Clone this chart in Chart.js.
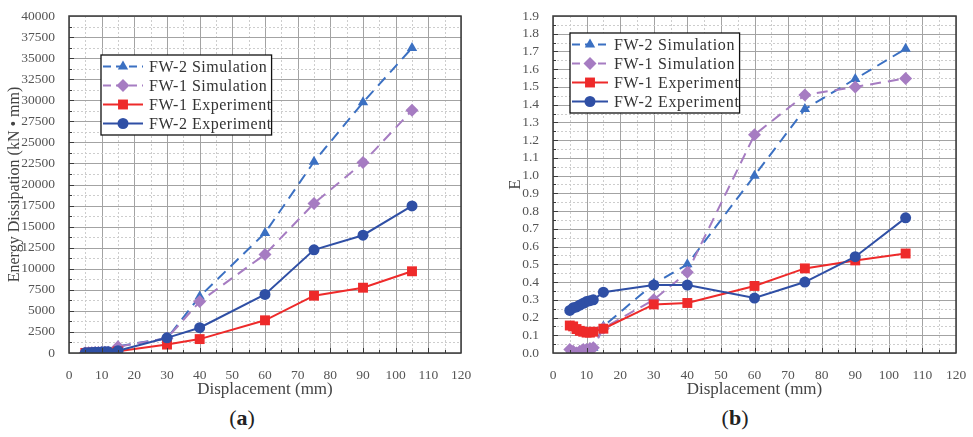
<!DOCTYPE html>
<html lang="en">
<head>
<meta charset="UTF-8">
<title>Energy dissipation / E</title>
<script src="https://cdn.jsdelivr.net/npm/chart.js@4.4.0/dist/chart.umd.min.js"></script>
<style>
  body{margin:0;background:#fff;width:973px;height:437px;position:relative;overflow:hidden;}
  .box{position:absolute;top:0;height:400px;}
  #boxA{left:0;width:485px;}
  #boxB{left:490px;width:483px;}
  .tag{position:absolute;top:405px;width:100px;text-align:center;font:22px "Liberation Serif",serif;color:#222;}
  .tag b{font-weight:bold;}
</style>
</head>
<body>
<div class="box" id="boxA"><canvas id="chartA"></canvas></div>
<div class="box" id="boxB"><canvas id="chartB"></canvas></div>
<div class="tag" style="left:192px;">(<b>a</b>)</div>
<div class="tag" style="left:685px;">(<b>b</b>)</div>
<script>
// displacement steps (mm)
const disp = [5, 6, 7, 8, 9, 10, 11, 12, 15, 30, 40, 60, 75, 90, 105];

// energy dissipation, kN*mm
const energyFW2Sim = [30, 40, 50, 60, 70, 80, 90, 100, 800, 1750, 6700, 14250, 22700, 29750, 36200];
const energyFW1Sim = [20, 30, 40, 50, 60, 70, 80, 90, 750, 1750, 6100, 11700, 17750, 22600, 28800];
const energyFW1Exp = [10, 20, 30, 40, 50, 60, 70, 80, 200, 1000, 1650, 3880, 6800, 7750, 9700];
const energyFW2Exp = [20, 40, 60, 80, 100, 120, 140, 160, 280, 1800, 3000, 6950, 12250, 13980, 17450];

// E coefficient
const eFW2Sim = [0.005, 0.0, 0.0, 0.01, 0.015, 0.02, 0.025, 0.03, 0.15, 0.39, 0.50, 1.00, 1.375, 1.545, 1.715];
const eFW1Sim = [0.02, 0.01, 0.0, 0.01, 0.02, 0.02, 0.025, 0.03, 0.14, 0.30, 0.455, 1.23, 1.455, 1.50, 1.548];
const eFW1Exp = [0.155, 0.15, 0.135, 0.125, 0.12, 0.115, 0.115, 0.12, 0.137, 0.274, 0.282, 0.378, 0.477, 0.522, 0.561];
const eFW2Exp = [0.24, 0.255, 0.26, 0.27, 0.28, 0.29, 0.295, 0.30, 0.343, 0.383, 0.383, 0.31, 0.40, 0.543, 0.762];

const seriesNames = ['FW-2 Simulation', 'FW-1 Simulation', 'FW-1 Experiment', 'FW-2 Experiment'];
const xTicks = [0, 10, 20, 30, 40, 50, 60, 70, 80, 90, 100, 110, 120];

const SERIF = '"Liberation Serif", "Times New Roman", serif';

const styles = [
  {color: '#3b70c2', dash: [11, 7], point: 'triangle', r: 6, order: 3},
  {color: '#a67cc2', dash: [11, 7], point: 'rectRot', r: 6.5, order: 2},
  {color: '#ee2a2a', dash: [], point: 'rect', r: 7, order: 1},
  {color: '#2f4fa5', dash: [], point: 'circle', r: 5.5, order: 0}
];

function makeSets(lists) {
  return lists.map((vals, i) => ({
    label: seriesNames[i],
    data: disp.map((d, k) => ({x: d, y: vals[k]})),
    borderColor: styles[i].color,
    backgroundColor: styles[i].color,
    borderWidth: 2,
    borderDash: styles[i].dash,
    pointStyle: styles[i].point,
    pointRadius: styles[i].r,
    pointBorderWidth: 0,
    tension: 0,
    order: styles[i].order
  }));
}

// major/minor grid, axis frame and inner ticks
const paperGrid = {
  id: 'paperGrid',
  beforeDatasetsDraw(chart, args, o) {
    const {ctx, chartArea: a, scales: {x, y}} = chart;
    ctx.save();
    const nx = Math.round((x.max - x.min) / o.xMinor);
    for (let i = 0; i <= nx; i++) {
      const px = Math.round(x.getPixelForValue(x.min + i * o.xMinor)) + 0.5;
      const major = i % 2 === 0;
      ctx.strokeStyle = major ? '#a3a3a3' : '#cdcdcd';
      ctx.lineWidth = 1;
      ctx.setLineDash(major ? [] : [2, 2]);
      ctx.beginPath(); ctx.moveTo(px, a.top); ctx.lineTo(px, a.bottom); ctx.stroke();
    }
    const ny = Math.round((y.max - y.min) / o.yMinor);
    for (let i = 0; i <= ny; i++) {
      const py = Math.round(y.getPixelForValue(y.min + i * o.yMinor)) + 0.5;
      const major = i % 2 === 0;
      ctx.strokeStyle = major ? '#a3a3a3' : '#cdcdcd';
      ctx.lineWidth = 1;
      ctx.setLineDash(major ? [] : [2, 2]);
      ctx.beginPath(); ctx.moveTo(a.left, py); ctx.lineTo(a.right, py); ctx.stroke();
    }
    ctx.restore();
  },
  afterDatasetsDraw(chart, args, o) {
    const {ctx, chartArea: a, scales: {x, y}} = chart;
    ctx.save();
    ctx.strokeStyle = '#3a3a3a';
    ctx.lineWidth = 1.5;
    ctx.setLineDash([]);
    ctx.strokeRect(a.left, a.top, a.right - a.left, a.bottom - a.top);
    ctx.lineWidth = 1;
    const nx = Math.round((x.max - x.min) / o.xMinor);
    for (let i = 1; i < nx; i++) {
      const px = Math.round(x.getPixelForValue(x.min + i * o.xMinor)) + 0.5;
      const len = i % 2 === 0 ? 5 : 3;
      ctx.beginPath(); ctx.moveTo(px, a.bottom); ctx.lineTo(px, a.bottom - len); ctx.stroke();
    }
    const ny = Math.round((y.max - y.min) / o.yMinor);
    for (let i = 1; i < ny; i++) {
      const py = Math.round(y.getPixelForValue(y.min + i * o.yMinor)) + 0.5;
      const len = i % 2 === 0 ? 5 : 3;
      ctx.beginPath(); ctx.moveTo(a.left, py); ctx.lineTo(a.left + len, py); ctx.stroke();
    }
    ctx.restore();
  }
};

// boxed legend inside the plot
const boxLegend = {
  id: 'boxLegend',
  afterDraw(chart, args, o) {
    const ctx = chart.ctx;
    const sets = chart.data.datasets;
    ctx.save();
    ctx.font = '16px ' + SERIF;
    ctx.letterSpacing = o.spacing;
    const textW = Math.max(...sets.map(s => ctx.measureText(s.label).width));
    const w = o.sample + 6 + textW + 2;
    const h = sets.length * o.row + 4;
    ctx.fillStyle = '#fff';
    ctx.fillRect(o.left, o.top, w, h);
    ctx.strokeStyle = '#111';
    ctx.lineWidth = 1.3;
    ctx.strokeRect(o.left, o.top, w, h);
    sets.forEach((s, i) => {
      const cy = o.top + 2 + o.row * (i + 0.5);
      const x0 = o.left + 2, x1 = x0 + o.sample;
      ctx.strokeStyle = s.borderColor;
      ctx.fillStyle = s.backgroundColor;
      ctx.lineWidth = 2;
      ctx.setLineDash(s.borderDash.length ? [8, 5] : []);
      ctx.beginPath(); ctx.moveTo(x0, cy); ctx.lineTo(x1, cy); ctx.stroke();
      ctx.setLineDash([]);
      Chart.helpers.drawPoint(ctx, {pointStyle: s.pointStyle, radius: s.pointRadius, rotation: 0, borderWidth: 0}, (x0 + x1) / 2, cy);
      ctx.fillStyle = '#333';
      ctx.textBaseline = 'middle';
      ctx.fillText(s.label, x1 + 6, cy + 1);
    });
    ctx.restore();
  }
};

function buildChart(id, lists, cfg) {
  return new Chart(document.getElementById(id), {
    type: 'line',
    data: {datasets: makeSets(lists)},
    plugins: [paperGrid, boxLegend],
    options: {
      responsive: true,
      maintainAspectRatio: false,
      animation: false,
      layout: {padding: {top: 16, right: cfg.right, left: 0, bottom: 0}},
      plugins: {
        legend: {display: false},
        tooltip: {enabled: false},
        paperGrid: {xMinor: 5, yMinor: cfg.yMinor},
        boxLegend: cfg.legend
      },
      scales: {
        x: {
          type: 'linear', min: 0, max: 120,
          afterBuildTicks: s => { s.ticks = xTicks.map(v => ({value: v})); },
          afterFit: s => { s.height = 47; },
          grid: {display: false},
          border: {display: false},
          ticks: {color: '#555', padding: 6, autoSkip: false, maxRotation: 0, font: {family: SERIF, size: 13.5}},
          title: {display: true, text: 'Displacement (mm)', color: '#444', padding: {top: 4, bottom: 0},
                  font: {family: SERIF, size: 17}}
        },
        y: {
          type: 'linear', min: 0, max: cfg.yMax,
          afterBuildTicks: s => { s.ticks = cfg.yTicks.map(v => ({value: v})); },
          afterFit: s => { s.width = cfg.yWidth; },
          grid: {display: false},
          border: {display: false},
          ticks: {color: '#555', padding: 6, autoSkip: false, font: {family: SERIF, size: 13.5},
                  callback: cfg.fmt},
          title: {display: true, text: cfg.yTitle, color: '#444', padding: {top: cfg.titlePad, bottom: 0},
                  font: {family: SERIF, size: cfg.titleSize}}
        }
      }
    }
  });
}

const energyTicks = [];
for (let v = 0; v <= 40000; v += 2500) energyTicks.push(v);
const eTicks = [];
for (let i = 0; i <= 19; i++) eTicks.push(i / 10);

function drawAll() {
  buildChart('chartA', [energyFW2Sim, energyFW1Sim, energyFW1Exp, energyFW2Exp], {
    right: 24, yMax: 40000, yMinor: 1250, yTicks: energyTicks, yWidth: 69, titlePad: 5, titleSize: 16,
    yTitle: 'Energy Dissipation (kN \u2022 mm)', fmt: v => String(v),
    legend: {left: 101, top: 55, sample: 40, row: 19, spacing: '0.5px'}
  });
  buildChart('chartB', [eFW2Sim, eFW1Sim, eFW1Exp, eFW2Exp], {
    right: 17, yMax: 1.9, yMinor: 0.05, yTicks: eTicks, yWidth: 63, titlePad: 15, titleSize: 17,
    yTitle: 'E', fmt: v => v.toFixed(1),
    legend: {left: 80, top: 33, sample: 36, row: 19, spacing: '0.7px'}
  });
}

// canvas text needs the faces loaded first
document.fonts.load('14px "Liberation Serif"').then(drawAll, drawAll);
</script>
</body>
</html>
